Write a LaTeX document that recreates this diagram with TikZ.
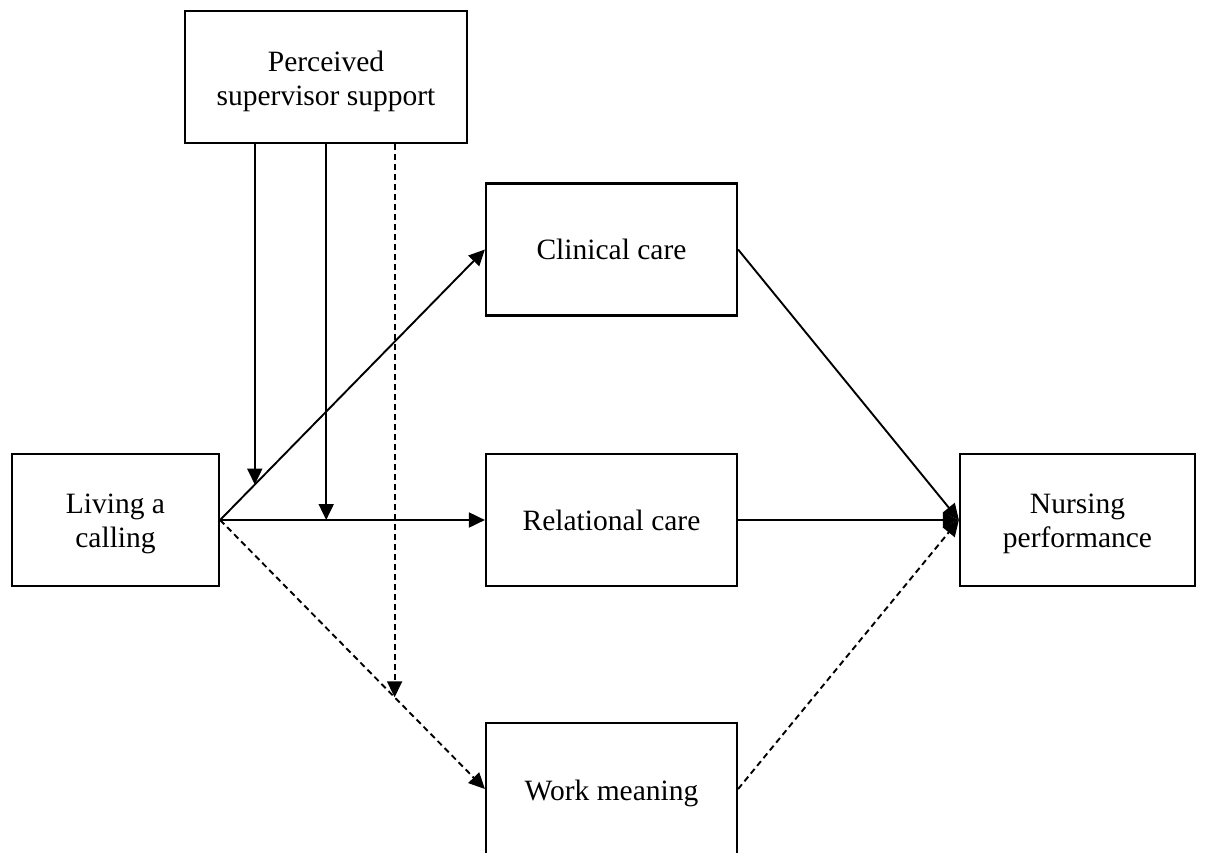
\documentclass[tikz,border=0pt]{standalone}
\usepackage{fontspec}
\setmainfont{Liberation Serif}
\usetikzlibrary{arrows.meta,calc}
\begin{document}
\begin{tikzpicture}[x=1pt,y=-1pt,
  box/.style={draw, line width=2.2pt, inner sep=0pt, minimum height=132pt},
  txt/.style={align=center, inner sep=0pt, font=\fontsize{29.5}{34}\selectfont},
  arr/.style={line width=1.9pt, -{Triangle[length=16pt,width=15pt]}},
  dsh/.style={dash pattern=on 6pt off 4pt}]
\useasboundingbox (0,0) rectangle (1205,852);
\clip (0,0) rectangle (1205,852);
\fill[white] (0,0) rectangle (1205,852);
\node[box, minimum width=282pt] (pss) at (326,77) {};
\node[box, minimum width=251pt] (clin) at (611.5,249.5) {};
\node[box, minimum width=251pt] (rel) at (611.5,520) {};
\node[box, minimum width=251pt] (work) at (611.5,789) {};
\node[box, minimum width=207pt] (liv) at (115.5,520) {};
\node[box, minimum width=235pt] (nurs) at (1077.5,520) {};
\node[txt] (pssT) at ([yshift=-4pt]pss.center) {Perceived\\supervisor support};
\node[txt] (clinT) at (clin.center) {Clinical care};
\node[txt] (relT) at (rel.center) {Relational care};
\node[txt] (workT) at ([yshift=-4pt]work.center) {Work meaning};
\node[txt] (livT) at ([yshift=-4pt]liv.center) {Living a\\calling};
\node[txt] (nursT) at ([yshift=-4pt]nurs.center) {Nursing\\performance};
\draw[arr] (liv.east) -- (clin.west);
\draw[arr] (liv.east) -- (rel.west);
\draw[arr,dsh] (liv.east) -- (work.west);
\draw[arr] (clin.east) -- (nurs.west);
\draw[arr] (rel.east) -- (nurs.west);
\draw[arr,dsh] (work.east) -- (nurs.west);
\coordinate (m1) at ($(liv.east)!0.131!(clin.west)$);
\coordinate (m2) at ($(liv.east)!0.4007!(rel.west)$);
\coordinate (m3) at ($(liv.east)!0.659!(work.west)$);
\draw[arr] (pss.south -| m1) -- (m1);
\draw[arr] (pss.south -| m2) -- (m2);
\draw[arr,dsh] (pss.south -| m3) -- (m3);
\end{tikzpicture}
\end{document}
